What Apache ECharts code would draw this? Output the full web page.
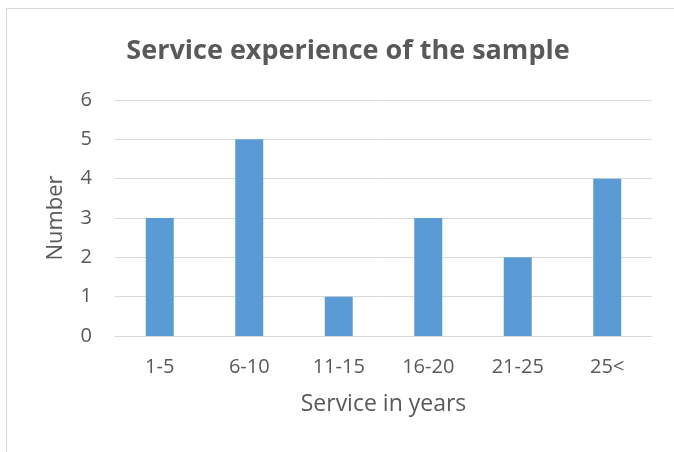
<!DOCTYPE html>
<html>
<head>
<meta charset="utf-8">
<script src="https://cdn.jsdelivr.net/npm/echarts@6/dist/echarts.min.js"></script>
<style>html,body{margin:0;padding:0;background:#fff}#c{width:674px;height:452px}</style>
</head>
<body>
<div id="c"></div>
<script>
const categories = ['1-5', '6-10', '11-15', '16-20', '21-25', '25<'];
const counts = [3, 5, 1, 3, 2, 4];
const yTicks = { min: 0, max: 6, interval: 1 };
const titleText = 'Service experience of the sample';
const xName = 'Service in years';
const yName = 'Number';

const chart = echarts.init(document.getElementById('c'), null, { renderer: 'canvas' });
const font = '"Open Sans", sans-serif';
const grey = '#595959';
chart.setOption({
  animation: false,
  backgroundColor: '#fff',
  title: {
    text: titleText,
    left: 343, top: 33, textAlign: 'center',
    textStyle: { fontFamily: font, fontSize: 27, fontWeight: 'bold', color: grey }
  },
  grid: { left: 115, right: 22, top: 100, bottom: 116 },
  xAxis: {
    type: 'category', data: categories,
    name: xName, nameLocation: 'middle', nameGap: 57,
    nameTextStyle: { fontFamily: font, fontSize: 23, color: grey },
    axisLine: { lineStyle: { color: '#d9d9d9', width: 1 } },
    axisTick: { show: false },
    axisLabel: { fontFamily: font, fontSize: 20, color: grey, margin: 21 }
  },
  yAxis: {
    type: 'value', min: yTicks.min, max: yTicks.max, interval: yTicks.interval,
    name: yName, nameLocation: 'middle', nameGap: 48,
    nameTextStyle: { fontFamily: font, fontSize: 22, color: grey },
    axisLine: { show: false }, axisTick: { show: false },
    splitLine: { lineStyle: { color: '#d9d9d9', width: 1 } },
    axisLabel: { fontFamily: font, fontSize: 20, color: grey, margin: 23 }
  },
  series: [{
    type: 'bar', data: counts, barWidth: 28,
    itemStyle: { color: '#5B9BD5' }
  }],
  graphic: [
    { type: 'line', shape: { x1: 6.5, y1: 8, x2: 6.5, y2: 452 }, style: { stroke: '#d9d9d9', lineWidth: 1 } },
    { type: 'line', shape: { x1: 6, y1: 8.5, x2: 674, y2: 8.5 }, style: { stroke: '#d9d9d9', lineWidth: 1 } }
  ]
});
</script>
</body>
</html>
